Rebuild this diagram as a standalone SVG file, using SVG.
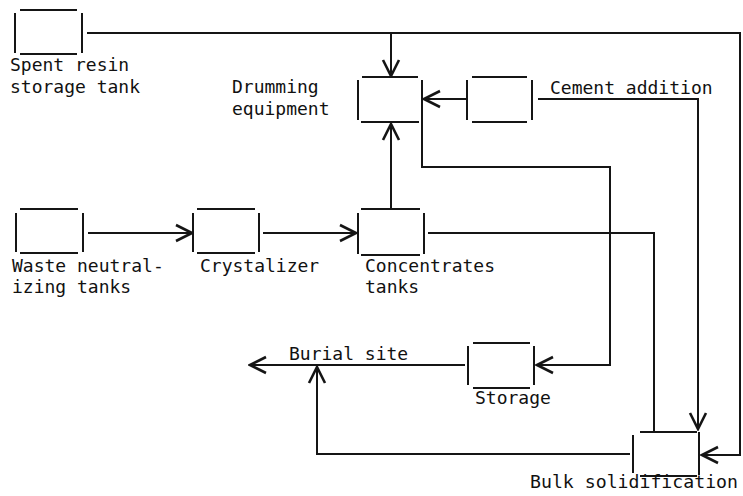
<svg xmlns="http://www.w3.org/2000/svg" width="743" height="496" viewBox="0 0 743 496">
<style>
.b line{stroke:#151515;stroke-width:2;}
.c{fill:none;stroke:#151515;stroke-width:2;stroke-linejoin:miter;}
.a{marker-end:url(#arr);}
text{font-family:"DejaVu Sans Mono","Liberation Mono",monospace;font-size:18px;fill:#111;}
</style>
<defs>
<marker id="arr" viewBox="0 0 20 20" refX="18" refY="10" markerWidth="20" markerHeight="20" markerUnits="userSpaceOnUse" orient="auto">
<path d="M2,2 L18,10 L2,18" fill="none" stroke="#151515" stroke-width="2.6"/>
</marker>
</defs>
<rect width="743" height="496" fill="#fff"/>
<g id="spent-resin" class="b">
<line x1="20" y1="10" x2="77" y2="10"/><line x1="15" y1="13" x2="15" y2="53"/><line x1="82" y1="13" x2="82" y2="53"/><line x1="20" y1="54" x2="77" y2="54"/>
<text x="10" y="71">Spent resin</text><text x="10" y="93">storage tank</text>
</g>
<g id="drumming" class="b">
<line x1="362" y1="77" x2="418" y2="77"/><line x1="358" y1="80" x2="358" y2="120"/><line x1="422" y1="80" x2="422" y2="122"/><line x1="361" y1="122" x2="419" y2="122"/>
<text x="232" y="93">Drumming</text><text x="232" y="115">equipment</text>
</g>
<g id="cement" class="b">
<line x1="472" y1="77" x2="527" y2="77"/><line x1="467" y1="80" x2="467" y2="120"/><line x1="532" y1="80" x2="532" y2="120"/><line x1="472" y1="122" x2="527" y2="122"/>
<text x="550" y="94">Cement addition</text>
</g>
<g id="waste" class="b">
<line x1="20" y1="209" x2="78" y2="209"/><line x1="16" y1="213" x2="16" y2="252"/><line x1="83" y1="213" x2="83" y2="252"/><line x1="20" y1="253" x2="78" y2="253"/>
<text x="12" y="272">Waste neutral-</text><text x="12" y="293">izing tanks</text>
</g>
<g id="crystalizer" class="b">
<line x1="197" y1="209" x2="255" y2="209"/><line x1="193" y1="213" x2="193" y2="252"/><line x1="259" y1="213" x2="259" y2="252"/><line x1="197" y1="253" x2="255" y2="253"/>
<text x="200" y="272">Crystalizer</text>
</g>
<g id="concentrates" class="b">
<line x1="361" y1="209" x2="420" y2="209"/><line x1="358" y1="213" x2="358" y2="254"/><line x1="424" y1="213" x2="424" y2="254"/><line x1="361" y1="255" x2="420" y2="255"/>
<text x="365" y="272">Concentrates</text><text x="365" y="293">tanks</text>
</g>
<g id="storage" class="b">
<line x1="473" y1="343" x2="530" y2="343"/><line x1="468" y1="346" x2="468" y2="385"/><line x1="534" y1="346" x2="534" y2="385"/><line x1="473" y1="388" x2="530" y2="388"/>
<text x="475" y="404">Storage</text>
</g>
<g id="burial">
<text x="289" y="360">Burial site</text>
</g>
<g id="bulk" class="b">
<line x1="640" y1="432" x2="697" y2="432"/><line x1="633" y1="435" x2="633" y2="473"/><line x1="699" y1="432" x2="699" y2="475"/><line x1="640" y1="476" x2="697" y2="476"/>
<text x="530" y="488" textLength="208" lengthAdjust="spacingAndGlyphs">Bulk solidification</text>
</g>
<g id="connectors">
<polyline class="c a" points="87,33 740,33 740,455 702,455"/>
<polyline class="c a" points="391,33 391,76"/>
<polyline class="c a" points="466,99 424,99"/>
<polyline class="c a" points="538,99 698,99 698,429"/>
<polyline class="c a" points="88,233 192,233"/>
<polyline class="c a" points="263,233 356,233"/>
<polyline class="c a" points="391,208 391,124"/>
<polyline class="c" points="428,233 654,233 654,432"/>
<polyline class="c a" points="422,122 422,167 610,167 610,365 537,365"/>
<polyline class="c a" points="465,365 250,365"/>
<polyline class="c a" points="630,454 317,454 317,367"/>
</g>
</svg>
